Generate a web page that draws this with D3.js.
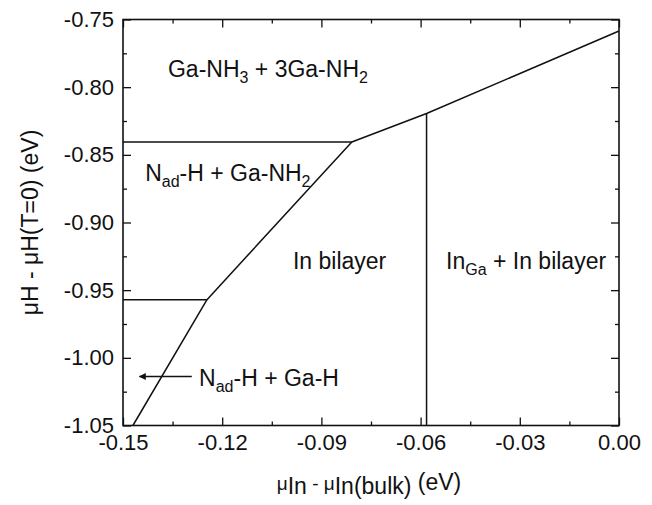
<!DOCTYPE html>
<html>
<head>
<meta charset="utf-8">
<script src="https://cdn.jsdelivr.net/npm/d3@7"></script>
<style>
  body { margin: 0; background: #fff; }
  text { font-family: "Liberation Sans", Arial, sans-serif; fill: #111; }
</style>
</head>
<body>
<script>
// Phase boundaries (x = mu_In - mu_In(bulk), y = mu_H - mu_H(T=0)), in eV
const upperBoundary = [[-0.150, -0.8405], [-0.0808, -0.8405], [-0.0582, -0.8195], [0.000, -0.7585]];
const diagonalBoundary = [[-0.0808, -0.8405], [-0.1246, -0.957], [-0.147, -1.05]];
const lowerBoundary = [[-0.150, -0.957], [-0.1246, -0.957]];
const verticalBoundary = [[-0.0582, -0.8195], [-0.0582, -1.05]];

// Tick values and labels
const xTicks = [-0.15, -0.12, -0.09, -0.06, -0.03, 0.00];
const xTickLabels = ["-0.15", "-0.12", "-0.09", "-0.06", "-0.03", "0.00"];
const xMinorTicks = [-0.135, -0.105, -0.075, -0.045, -0.015];
const yTicks = [-0.75, -0.80, -0.85, -0.90, -0.95, -1.00, -1.05];
const yTickLabels = ["-0.75", "-0.80", "-0.85", "-0.90", "-0.95", "-1.00", "-1.05"];
const yMinorTicks = [-0.775, -0.825, -0.875, -0.925, -0.975, -1.025];

// Region labels, anchored at data coordinates (left, baseline)
const regionLabels = [
  { x: -0.1364, y: -0.7925, parts: [["Ga-NH"], ["3", 1], [" + 3Ga-NH"], ["2", 1]] },
  { x: -0.1433, y: -0.8690, parts: [["N"], ["ad", 1], ["-H + Ga-NH"], ["2", 1]] },
  { x: -0.0986, y: -0.9345, parts: [["In bilayer"]] },
  { x: -0.0523, y: -0.9345, parts: [["In"], ["Ga", 1], [" + In bilayer"]] },
  { x: -0.1270, y: -1.0205, parts: [["N"], ["ad", 1], ["-H + Ga-H"]] }
];
const arrow = { from: [-0.1292, -1.0138], to: [-0.1450, -1.0138] };

const W = 652, H = 505;
const margin = { top: 19.5, right: 33, bottom: 79.5, left: 123 };
const width = W - margin.left - margin.right;
const height = H - margin.top - margin.bottom;

const x = d3.scaleLinear().domain([-0.15, 0]).range([0, width]);
const y = d3.scaleLinear().domain([-1.05, -0.75]).range([height, 0]);

const svg = d3.select("body").append("svg")
  .attr("width", W)
  .attr("height", H);

svg.append("defs").append("marker")
  .attr("id", "arrowhead")
  .attr("viewBox", "0 0 10 10")
  .attr("refX", 9).attr("refY", 5)
  .attr("markerWidth", 9).attr("markerHeight", 7)
  .attr("markerUnits", "userSpaceOnUse")
  .attr("orient", "auto")
  .append("path")
  .attr("d", "M0,0 L10,5 L0,10 Z")
  .attr("fill", "#111");

const g = svg.append("g")
  .attr("transform", `translate(${margin.left},${margin.top})`);

// Axes with inward ticks on all four sides
const fontSize = 23, tickSize = 22, subSize = 16;
function styleAxis(sel) {
  sel.select(".domain").remove();
  sel.selectAll("line").attr("stroke", "#111").attr("stroke-width", 1.3);
  sel.selectAll("text").style("font-size", tickSize + "px").attr("fill", "#111");
}

g.append("g").attr("transform", `translate(0,${height})`)
  .call(d3.axisBottom(x).tickValues(xTicks).tickSize(-8).tickPadding(9)
    .tickFormat((d, i) => xTickLabels[i]))
  .call(styleAxis);
g.append("g").attr("transform", `translate(0,${height})`)
  .call(d3.axisBottom(x).tickValues(xMinorTicks).tickSize(-4).tickFormat(""))
  .call(styleAxis);
g.append("g")
  .call(d3.axisTop(x).tickValues(xTicks).tickSize(-8).tickFormat(""))
  .call(styleAxis);
g.append("g")
  .call(d3.axisTop(x).tickValues(xMinorTicks).tickSize(-4).tickFormat(""))
  .call(styleAxis);

g.append("g")
  .call(d3.axisLeft(y).tickValues(yTicks).tickSize(-8).tickPadding(9)
    .tickFormat((d, i) => yTickLabels[i]))
  .call(styleAxis);
g.append("g")
  .call(d3.axisLeft(y).tickValues(yMinorTicks).tickSize(-4).tickFormat(""))
  .call(styleAxis);
g.append("g").attr("transform", `translate(${width},0)`)
  .call(d3.axisRight(y).tickValues(yTicks).tickSize(-8).tickFormat(""))
  .call(styleAxis);
g.append("g").attr("transform", `translate(${width},0)`)
  .call(d3.axisRight(y).tickValues(yMinorTicks).tickSize(-4).tickFormat(""))
  .call(styleAxis);

// Frame
g.append("rect")
  .attr("width", width).attr("height", height)
  .attr("fill", "none").attr("stroke", "#111").attr("stroke-width", 1.6);

// Boundary lines
const line = d3.line().x(d => x(d[0])).y(d => y(d[1]));
[upperBoundary, diagonalBoundary, lowerBoundary, verticalBoundary].forEach(b => {
  g.append("path")
    .datum(b)
    .attr("fill", "none")
    .attr("stroke", "#111")
    .attr("stroke-width", 1.5)
    .attr("stroke-linejoin", "round")
    .attr("d", line);
});

// Region labels with subscripts
regionLabels.forEach(lab => {
  const t = g.append("text")
    .attr("x", x(lab.x)).attr("y", y(lab.y))
    .style("font-size", fontSize + "px");
  let shifted = false;
  lab.parts.forEach(p => {
    const sub = !!p[1];
    const ts = t.append("tspan").text(p[0]);
    if (sub) ts.style("font-size", subSize + "px");
    if (sub && !shifted) { ts.attr("dy", 6); shifted = true; }
    else if (!sub && shifted) { ts.attr("dy", -6); shifted = false; }
  });
});

// Arrow pointing into the narrow region
g.append("line")
  .attr("x1", x(arrow.from[0])).attr("y1", y(arrow.from[1]))
  .attr("x2", x(arrow.to[0])).attr("y2", y(arrow.to[1]))
  .attr("stroke", "#111").attr("stroke-width", 1.3)
  .attr("marker-end", "url(#arrowhead)");

// Axis titles
const xTitle = svg.append("text")
  .attr("x", margin.left + width / 2 - 2).attr("y", 490)
  .attr("text-anchor", "middle")
  .style("font-size", fontSize + "px");
xTitle.append("tspan").text("\u03bc").style("font-size", "19px");
xTitle.append("tspan").text("In").attr("dy", 4);
xTitle.append("tspan").text(" - ").attr("dy", -4).style("font-size", "19px");
xTitle.append("tspan").text("\u03bc").style("font-size", "19px");
xTitle.append("tspan").text("In(bulk)").attr("dy", 4);
xTitle.append("tspan").text(" (eV)").attr("dy", -4);

svg.append("text")
  .attr("transform", `translate(38,${margin.top + height / 2}) rotate(-90)`)
  .attr("text-anchor", "middle")
  .style("font-size", fontSize + "px")
  .text("\u03bcH - \u03bcH(T=0) (eV)");
</script>
</body>
</html>
